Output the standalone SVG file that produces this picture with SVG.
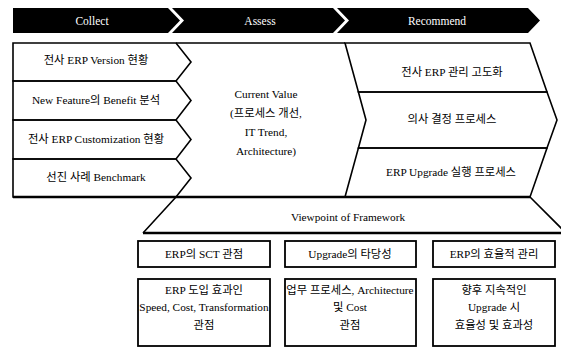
<svg xmlns="http://www.w3.org/2000/svg" width="561" height="348" viewBox="0 0 561 348">
  <style>
    .hdr { fill: #000; }
    .hdr-t { fill: #fff; font-family: "Liberation Serif", "Noto Sans CJK KR", serif; font-size: 11.5px; text-anchor: middle; }
    .ln { fill: none; stroke: #000; stroke-width: 1.6; stroke-linejoin: miter; }
    .thick { fill: none; stroke: #000; stroke-width: 2.4; }
    .box { fill: #fff; stroke: #000; stroke-width: 1.8; }
    .t { fill: #000; font-family: "Liberation Serif", "Noto Sans CJK KR", serif; font-size: 11.3px; text-anchor: middle; }
  </style>
  <rect width="561" height="348" fill="#fff"/>

  <!-- phase header chevrons -->
  <g id="phase-collect">
    <path class="hdr" d="M13,8 H168 L180,20.5 L168,33 H13 Z"/>
    <text class="hdr-t" x="92" y="24.5">Collect</text>
  </g>
  <g id="phase-assess">
    <path class="hdr" d="M172,8 H333 L345,20.5 L333,33 H172 L184,20.5 Z"/>
    <text class="hdr-t" x="260" y="24.5">Assess</text>
  </g>
  <g id="phase-recommend">
    <path class="hdr" d="M337,8 H528 L540,20.5 L528,33 H337 L349,20.5 Z"/>
    <text class="hdr-t" x="437" y="24.5">Recommend</text>
  </g>

  <!-- collect items -->
  <g id="collect-version">
    <path class="ln" d="M13,43 H176 L191,62 L176,81 H13 Z"/>
    <text class="t" x="96" y="64">전사 ERP Version 현황</text>
  </g>
  <g id="collect-feature">
    <path class="ln" d="M13,81 H176 L191,100.5 L176,120 H13 Z"/>
    <text class="t" x="96" y="104">New Feature의 Benefit 분석</text>
  </g>
  <g id="collect-custom">
    <path class="ln" d="M13,120 H176 L191,139.5 L176,159 H13 Z"/>
    <text class="t" x="96" y="143">전사 ERP Customization 현황</text>
  </g>
  <g id="collect-bench">
    <path class="ln" d="M13,159 H176 L191,178 L176,197 H13 Z"/>
    <text class="t" x="96" y="181">선진 사례 Benchmark</text>
  </g>

  <!-- assess value -->
  <g id="assess-value">
    <path class="ln" d="M176,43 H345 M176,197 H345"/>
    <text class="t" x="266" y="98">Current Value</text>
    <text class="t" x="266" y="117">(프로세스 개선,</text>
    <text class="t" x="266" y="136">IT Trend,</text>
    <text class="t" x="266" y="155">Architecture)</text>
  </g>

  <!-- recommend items -->
  <g id="recommend-mgmt">
    <path class="ln" d="M345,43 H530 L547,92 H358.4 Z"/>
    <text class="t" x="452" y="76">전사 ERP 관리 고도화</text>
  </g>
  <g id="recommend-decision">
    <path class="ln" d="M358.4,92 H547 L557,120 L547,148 H358.4 L366,120 Z"/>
    <text class="t" x="452" y="123">의사 결정 프로세스</text>
  </g>
  <g id="recommend-upgrade">
    <path class="ln" d="M358.4,148 H547 L530,197 H345 Z"/>
    <text class="t" x="451" y="176">ERP Upgrade 실행 프로세스</text>
  </g>

  <!-- framework viewpoint base -->
  <g id="viewpoint">
    <path class="ln" d="M176,197 L143,233 M530,197 L563,230"/>
    <path class="thick" d="M13,197 H530 M143,233 H561"/>
    <text class="t" x="348" y="221">Viewpoint of Framework</text>
  </g>

  <!-- viewpoint columns -->
  <g id="view-sct">
    <rect class="box" x="138" y="241" width="132" height="26"/>
    <text class="t" x="204" y="258">ERP의 SCT 관점</text>
    <rect class="box" x="138" y="279" width="132" height="67"/>
    <text class="t" x="204" y="294">ERP 도입 효과인</text>
    <text class="t" x="204" y="311">Speed, Cost, Transformation</text>
    <text class="t" x="204" y="329">관점</text>
  </g>
  <g id="view-upgrade">
    <rect class="box" x="285" y="241" width="131" height="26"/>
    <text class="t" x="350" y="258">Upgrade의 타당성</text>
    <rect class="box" x="285" y="279" width="131" height="67"/>
    <text class="t" x="350" y="294">업무 프로세스, Architecture</text>
    <text class="t" x="350" y="311">및 Cost</text>
    <text class="t" x="350" y="329">관점</text>
  </g>
  <g id="view-manage">
    <rect class="box" x="433" y="241" width="122" height="26"/>
    <text class="t" x="494" y="258">ERP의 효율적 관리</text>
    <rect class="box" x="433" y="279" width="122" height="67"/>
    <text class="t" x="494" y="294">향후 지속적인</text>
    <text class="t" x="494" y="311">Upgrade 시</text>
    <text class="t" x="494" y="329">효율성 및 효과성</text>
  </g>

  <!-- connectors: none drawn; the flow is carried by the chevron shapes -->
  <g id="connectors"/>
</svg>
